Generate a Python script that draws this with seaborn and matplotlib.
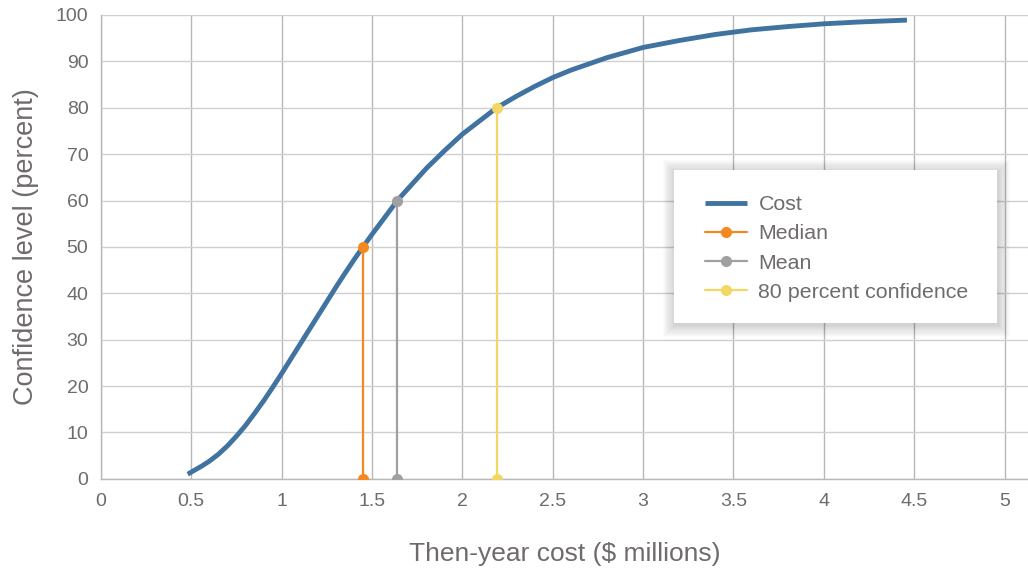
import matplotlib
matplotlib.use("Agg")
import matplotlib.pyplot as plt
from matplotlib.lines import Line2D
from matplotlib.patches import Rectangle
import seaborn as sns
import pandas as pd

# Cumulative cost-risk curve (S-curve)
cost_millions = [0.48, 0.52, 0.56, 0.60, 0.65, 0.70, 0.75, 0.80, 0.85, 0.90,
                 0.95, 1.00, 1.05, 1.10, 1.15, 1.20, 1.25, 1.30, 1.35, 1.40,
                 1.45, 1.50, 1.60, 1.64, 1.70, 1.80, 1.90, 2.00, 2.10, 2.19,
                 2.30, 2.40, 2.50, 2.60, 2.80, 3.00, 3.20, 3.40, 3.60, 3.80,
                 4.00, 4.20, 4.46]
confidence_pct = [1.0, 1.9, 2.8, 3.8, 5.3, 7.1, 9.2, 11.5, 14.1, 16.8,
                  19.7, 22.7, 25.8, 28.9, 32.0, 35.1, 38.2, 41.3, 44.3, 47.2,
                  50.0, 52.7, 57.9, 60.0, 62.6, 66.9, 70.7, 74.3, 77.3, 80.0,
                  82.5, 84.6, 86.5, 88.1, 90.8, 93.0, 94.5, 95.8, 96.8, 97.5,
                  98.1, 98.5, 98.9]

# Reference markers: cost and confidence level
marker_names = ["Median", "Mean", "80 percent confidence"]
marker_cost = [1.45, 1.64, 2.19]
marker_conf = [50, 60, 80]
marker_colors = ["#f5891f", "#a0a0a0", "#f2d862"]

x_ticks = [0, 0.5, 1, 1.5, 2, 2.5, 3, 3.5, 4, 4.5, 5]
x_tick_labels = ["0", "0.5", "1", "1.5", "2", "2.5", "3", "3.5", "4", "4.5", "5"]
y_ticks = list(range(0, 101, 10))

curve_color = "#4173a1"
text_color = "#6f6b6b"

sns.set_style("white")
plt.rcParams["font.family"] = ["Liberation Sans", "DejaVu Sans"]

fig = plt.figure(figsize=(10.28, 5.70), dpi=100)
ax = fig.add_axes([0.0982, 0.160, 0.9018, 0.8137])

curve = pd.DataFrame({"cost": cost_millions, "conf": confidence_pct})
sns.lineplot(data=curve, x="cost", y="conf", ax=ax, color=curve_color,
             linewidth=3.5, estimator=None, sort=False, zorder=4,
             solid_capstyle="butt", solid_joinstyle="round")

for name, cx, cy, col in zip(marker_names, marker_cost, marker_conf, marker_colors):
    seg = pd.DataFrame({"cost": [cx, cx], "conf": [0, cy]})
    sns.lineplot(data=seg, x="cost", y="conf", ax=ax, color=col, linewidth=1.6,
                 marker="o", markersize=8, markeredgewidth=0,
                 estimator=None, sort=False, zorder=5)

ax.set_xlim(0, 5.13)
ax.set_ylim(0, 100)
ax.set_xticks(x_ticks)
ax.set_xticklabels(x_tick_labels)
ax.set_yticks(y_ticks)
ax.tick_params(axis="both", length=0, labelsize=14, labelcolor=text_color)
ax.tick_params(axis="x", pad=10)
ax.tick_params(axis="y", pad=9)

ax.grid(axis="y", color="#d0d0d0", linewidth=1.0)
ax.grid(axis="x", color="#b8b8b8", linewidth=1.0)
ax.set_axisbelow(True)
for side in ["top", "right"]:
    ax.spines[side].set_visible(False)
for side in ["left", "bottom"]:
    ax.spines[side].set_color("#b8b8b8")
    ax.spines[side].set_linewidth(1.0)

ax.set_xlabel("Then-year cost ($ millions)", fontsize=19, color=text_color, labelpad=23)
ax.set_ylabel("Confidence level (percent)", fontsize=19.5, color=text_color, labelpad=12)

# legend panel: white box with a soft drop shadow
box_x0, box_y0, box_w, box_h = 0.6181, 0.3362, 0.3485, 0.3297
px_w = ax.get_position().width * fig.get_size_inches()[0] * fig.dpi
px_h = ax.get_position().height * fig.get_size_inches()[1] * fig.dpi
for i in range(11, 0, -1):
    dx = i * 1.1 / px_w
    dy = i * 1.1 / px_h
    ax.add_patch(Rectangle((box_x0 - dx + 1.0 / px_w, box_y0 - dy - 2.0 / px_h),
                           box_w + 2 * dx, box_h + 2 * dy,
                           transform=ax.transAxes, facecolor="black",
                           edgecolor="none", alpha=0.016, zorder=8,
                           clip_on=False))
ax.add_patch(Rectangle((box_x0, box_y0), box_w, box_h, transform=ax.transAxes,
                       facecolor="white", edgecolor="none", zorder=9,
                       clip_on=False))

handles = [Line2D([], [], color=curve_color, linewidth=3.5, solid_capstyle="butt")]
for col in marker_colors:
    handles.append(Line2D([], [], color=col, linewidth=1.6, marker="o",
                          markersize=8, markeredgewidth=0))
labels = ["Cost"] + marker_names
leg = ax.legend(handles, labels, loc="upper left", bbox_to_anchor=(0.6516, 0.611),
                fontsize=15.4, frameon=False, borderpad=0, labelspacing=0.47,
                handlelength=1.95, handletextpad=0.55, borderaxespad=0)
for t in leg.get_texts():
    t.set_color(text_color)
leg.set_zorder(11)

fig.savefig("out.png", dpi=100)
